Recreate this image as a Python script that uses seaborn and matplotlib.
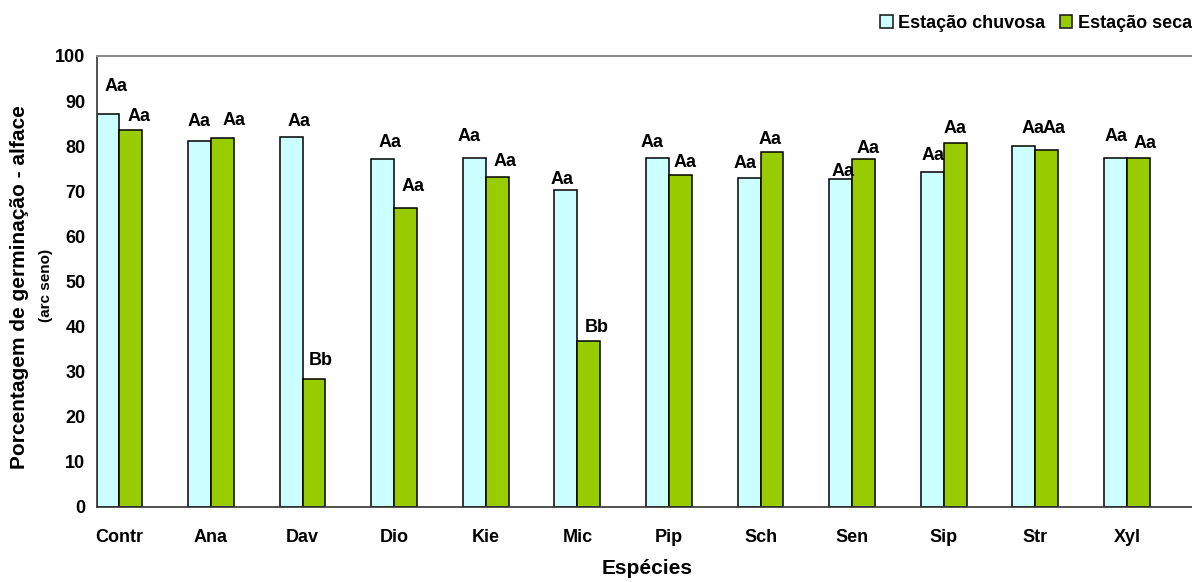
import numpy as np
import pandas as pd
import matplotlib
matplotlib.use("Agg")
import matplotlib.pyplot as plt
from matplotlib.patches import Patch
import seaborn as sns

# Germination of lettuce (arc-sine transformed) per species and season
especies = ["Contr", "Ana", "Dav", "Dio", "Kie", "Mic", "Pip", "Sch", "Sen", "Sip", "Str", "Xyl"]
chuvosa = [87.2, 81.1, 82.0, 77.1, 77.4, 70.3, 77.4, 72.9, 72.6, 74.2, 80.1, 77.4]
seca = [83.6, 81.7, 28.3, 66.3, 73.2, 36.8, 73.6, 78.7, 77.1, 80.7, 79.1, 77.4]
letras_chuvosa = ["Aa"] * 12
letras_seca = ["Aa", "Aa", "Bb", "Aa", "Aa", "Bb", "Aa", "Aa", "Aa", "Aa", "Aa", "Aa"]
estacoes = ["Estação chuvosa", "Estação seca"]
cores = ["#CCFFFF", "#99CC00"]

# label offsets (pixels) from the top centre of each bar
off_chuvosa = [(8, 27), (0, 20), (7.5, 16), (7, 17), (-5.7, 21), (-3.5, 10),
               (-5.3, 15), (-4, 15), (2.6, 8), (0.7, 16.3), (8.7, 17.3), (1, 21)]
off_seca = [(8, 13), (11.8, 17.7), (6.5, 19), (7, 21.7), (8.3, 15), (8, 13),
            (5, 12.7), (-2, 12), (4.7, 10.3), (-0.5, 14.7), (7.7, 22), (6.5, 14.3)]

df = pd.DataFrame({
    "Espécie": especies * 2,
    "Estação": [estacoes[0]] * len(especies) + [estacoes[1]] * len(especies),
    "Valor": chuvosa + seca,
})

sns.set_theme(style="white")
plt.rcParams["font.family"] = ["Liberation Sans", "DejaVu Sans"]
plt.rcParams["font.weight"] = "bold"
for key in ["text.color", "axes.labelcolor", "xtick.color", "ytick.color"]:
    plt.rcParams[key] = "black"

fig = plt.figure(figsize=(11.92, 5.82), dpi=100)
ax = fig.add_axes([96.5 / 1192, 1 - 506.7 / 582, 1 - 96.5 / 1192, (506.7 - 56) / 582])

sns.barplot(data=df, x="Espécie", y="Valor", hue="Estação", order=especies,
            hue_order=estacoes, palette=cores, saturation=1, width=0.5, gap=0,
            edgecolor="black", linewidth=1.1, legend=False, ax=ax)

ax.set_ylim(0, 100)
ax.set_xlim(-0.25, 11.71)
ax.set_yticks(np.arange(0, 101, 10))
ax.tick_params(axis="y", direction="out", length=5, width=1, color="#333333",
               labelcolor="black", labelsize=13, pad=3)
ax.set_xticks(range(len(especies)))
ax.set_xticklabels(especies)
ax.tick_params(axis="x", which="major", length=0, labelsize=13, labelcolor="black", pad=16)
minor = sorted([i - 0.25 for i in range(len(especies))] + [i + 0.25 for i in range(len(especies))])
ax.set_xticks(minor, minor=True)
ax.tick_params(axis="x", which="minor", direction="out", length=5, width=1, color="#333333")
for lbl in ax.get_xticklabels() + ax.get_yticklabels():
    lbl.set_fontweight("bold")

for side in ["left", "bottom"]:
    ax.spines[side].set_color("#333333")
    ax.spines[side].set_linewidth(1.2)
ax.spines["top"].set_color("#8c8c8c")
ax.spines["top"].set_linewidth(1.5)
ax.spines["right"].set_visible(False)

ax.set_xlabel("")
ax.set_ylabel("")
fig.text(647 / 1192, 1 - 569 / 582, "Espécies", ha="center", va="center",
         fontsize=15, fontweight="bold", color="black")
fig.text(20 / 1192, 1 - 287 / 582, "Porcentagem de germinação - alface", rotation=90,
         ha="center", va="center", fontsize=15, fontweight="bold", color="black")
fig.text(46 / 1192, 1 - 285 / 582, "(arc seno)", rotation=90,
         ha="center", va="center", fontsize=11, fontweight="bold", color="black")

# letters above bars
for cont, letras, offs in zip(ax.containers, [letras_chuvosa, letras_seca], [off_chuvosa, off_seca]):
    for bar, txt, (dx, dy) in zip(cont, letras, offs):
        x = bar.get_x() + bar.get_width() / 2
        y = bar.get_height()
        ax.annotate(txt, (x, y), xytext=(dx, dy), textcoords="offset pixels",
                    ha="center", va="center", fontsize=13, fontweight="bold",
                    color="black", annotation_clip=False)

handles = [Patch(facecolor=c, edgecolor="#222222", linewidth=1.2) for c in cores]
fig.legend(handles, estacoes, loc="center right", bbox_to_anchor=(1.0, 1 - 23.5 / 582),
           ncol=2, frameon=False, handlelength=0.7, handleheight=0.7,
           handletextpad=0.3, columnspacing=0.8, borderpad=0, borderaxespad=0,
           prop={"size": 13, "weight": "bold"})

fig.savefig("out.png", dpi=100)
